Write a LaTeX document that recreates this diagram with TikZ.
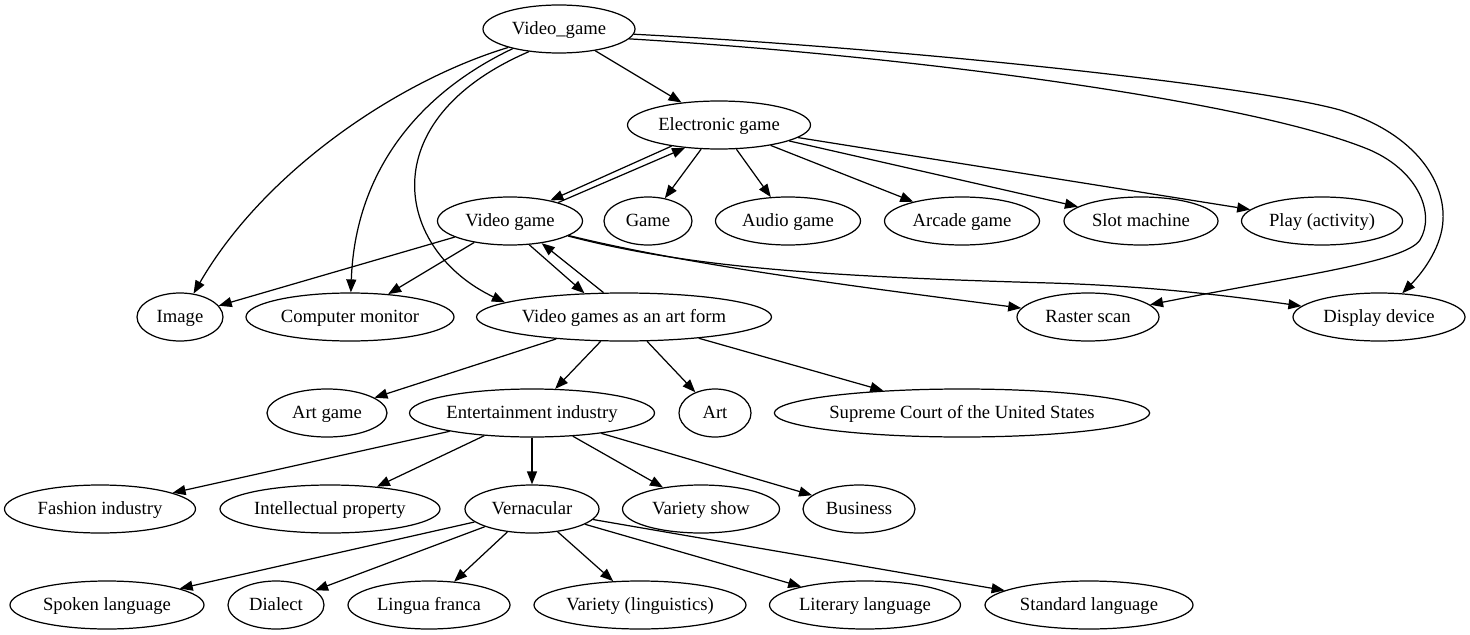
\documentclass[tikz,border=0pt]{standalone}
\usepackage{fontspec}
\setmainfont{Liberation Serif}
\usetikzlibrary{shapes.geometric,arrows.meta}

\begin{document}
\begin{tikzpicture}[x=0.02cm,y=-0.02cm,line width=0.7pt,
  gnode/.style={ellipse,draw,inner sep=0pt,minimum height=0.96cm,
    minimum width=#1*0.02cm,text height=8pt,text depth=2pt,
    font=\fontsize{10.6}{12}\selectfont},
  >={Triangle[length=0.26cm,width=0.2cm]}]
  \useasboundingbox (0,0) rectangle (1470,635);

  % Draw nodes, rank by rank
  \node[gnode=152] (vgm) at (559,29) {Video\_game};

  \node[gnode=183] (eg) at (719,125) {Electronic game};

  \node[gnode=145] (vg) at (510,221) {Video game};
  \node[gnode=88] (game) at (648,221) {Game};
  \node[gnode=145] (audio) at (788,221) {Audio game};
  \node[gnode=155] (arcade) at (962,221) {Arcade game};
  \node[gnode=154] (slot) at (1141,221) {Slot machine};
  \node[gnode=161] (play) at (1322,221) {Play (activity)};

  \node[gnode=86] (img) at (180,317) {Image};
  \node[gnode=208] (monitor) at (350,317) {Computer monitor};
  \node[gnode=295] (artform) at (624,317) {Video games as an art form};
  \node[gnode=142] (raster) at (1088,317) {Raster scan};
  \node[gnode=172] (display) at (1379,317) {Display device};

  \node[gnode=120] (artgame) at (327,413) {Art game};
  \node[gnode=245] (entind) at (532,413) {Entertainment industry};
  \node[gnode=72] (art) at (715,413) {Art};
  \node[gnode=374] (court) at (962,413) {Supreme Court of the United States};

  \node[gnode=191] (fashion) at (100,509) {Fashion industry};
  \node[gnode=220] (ip) at (330,509) {Intellectual property};
  \node[gnode=134] (vern) at (532,509) {Vernacular};
  \node[gnode=157] (vshow) at (701,509) {Variety show};
  \node[gnode=112] (business) at (859,509) {Business};

  \node[gnode=194] (spoken) at (107,605) {Spoken language};
  \node[gnode=96] (dialect) at (276,605) {Dialect};
  \node[gnode=162] (lingua) at (429,605) {Lingua franca};
  \node[gnode=212] (varling) at (640,605) {Variety (linguistics)};
  \node[gnode=191] (literary) at (865,605) {Literary language};
  \node[gnode=208] (standard) at (1089,605) {Standard language};

  % Edges out of Video_game
  \draw[->] (vgm) -- (eg);
  \draw[->] (vgm.200) .. controls (400,80) and (265,170) .. (img);
  \draw[->] (vgm.203) .. controls (415,95) and (355,175) .. (monitor);
  \draw[->] (vgm.217) .. controls (370,120) and (395,250) .. (artform.173);
  \draw[->] (vgm.352) .. controls (900,55) and (1250,100) .. (1370,150)
    .. controls (1420,172) and (1435,215) .. (1420,240)
    .. controls (1405,262) and (1300,275) .. (raster);
  \draw[->] (vgm.356) .. controls (900,48) and (1250,85) .. (1340,110)
    .. controls (1420,135) and (1445,185) .. (1443,220)
    .. controls (1442,245) and (1425,270) .. (display);

  % Electronic game
  \draw[->] (eg.204) -- (vg.27);
  \draw[->] (vg.21) -- (eg.214);
  \draw[->] (eg) -- (game);
  \draw[->] (eg) -- (audio);
  \draw[->] (eg) -- (arcade);
  \draw[->] (eg) -- (slot);
  \draw[->] (eg) -- (play);

  % Video game
  \draw[->] (vg) -- (img);
  \draw[->] (vg) -- (monitor);
  \draw[->] (vg.309) -- (artform.149);
  \draw[->] (artform.130) -- (vg.325);
  \draw[->] (vg) .. controls (700,268) and (900,292) .. (raster);
  \draw[->] (vg) .. controls (680,265) and (800,276) .. (1050,283)
    .. controls (1150,286) and (1230,296) .. (display);

  % Video games as an art form
  \draw[->] (artform) -- (artgame);
  \draw[->] (artform) -- (entind);
  \draw[->] (artform) -- (art);
  \draw[->] (artform) -- (court);

  % Entertainment industry
  \draw[->] (entind) -- (fashion);
  \draw[->] (entind) -- (ip);
  \draw[->] (entind) -- (vern);
  \draw[->] (entind) -- (vshow);
  \draw[->] (entind) -- (business);

  % Vernacular
  \draw[->] (vern) -- (spoken);
  \draw[->] (vern) -- (dialect);
  \draw[->] (vern) -- (lingua);
  \draw[->] (vern) -- (varling);
  \draw[->] (vern) -- (literary);
  \draw[->] (vern) -- (standard);
\end{tikzpicture}
\end{document}
